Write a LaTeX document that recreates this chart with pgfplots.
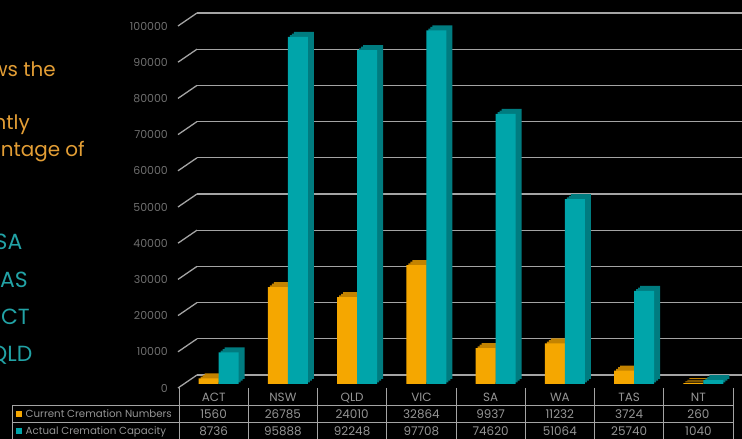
\documentclass[border=0pt]{standalone}
\usepackage{fontspec}
\setmainfont{Poppins}
\usepackage{pgfplots}
\pgfplotsset{compat=1.18}

\definecolor{barorange}{HTML}{F5A700}
\definecolor{barorangedk}{HTML}{C38300}
\definecolor{barteal}{HTML}{00A5AA}
\definecolor{bartealdk}{HTML}{007C80}
\definecolor{gridgray}{HTML}{A4A4A4}
\definecolor{tickgray}{HTML}{6E6E6E}
\definecolor{tabgray}{HTML}{959595}
\definecolor{slideorange}{HTML}{E39E35}
\definecolor{slideteal}{HTML}{22A3A6}

% fake 3d depth: shifted copies of the bar behind it
\tikzset{depth/.style={
  preaction={fill=#1, transform canvas={shift={(6bp,5bp)}}},
  preaction={fill=#1, transform canvas={shift={(4bp,3.3bp)}}},
  preaction={fill=#1, transform canvas={shift={(2bp,1.7bp)}}}}}

\begin{document}
\begin{tikzpicture}[x=1bp,y=1bp]
\fill[black] (0,0) rectangle (742,439);
\useasboundingbox (0,0) rectangle (742,439);
\clip (0,0) rectangle (742,439);

% slide text, cut at the left edge
\begin{scope}[every node/.style={anchor=base east, inner sep=0pt}]
\node[text=slideorange, font=\fontsize{20}{24}\selectfont] at (56,362) {This chart shows the};
\node[text=slideorange, font=\fontsize{20}{24}\selectfont] at (30,309) {currently};
\node[text=slideorange, font=\fontsize{20}{24}\selectfont] at (85,282) {percentage of};
\node[text=slideteal, font=\fontsize{22}{26}\selectfont] at (22.5,189) {SA};
\node[text=slideteal, font=\fontsize{22}{26}\selectfont] at (28,151) {TAS};
\node[text=slideteal, font=\fontsize{22}{26}\selectfont] at (30,114) {ACT};
\node[text=slideteal, font=\fontsize{22}{26}\selectfont] at (32.5,77) {QLD};
\end{scope}

% back wall with gridlines
\begin{axis}[at={(197bp,64bp)}, anchor=south west, scale only axis,
  width=545bp, height=362bp, xmin=0, xmax=1, ymin=0, ymax=100000,
  ytick={0,10000,...,100000}, xtick=\empty, yticklabel={},
  ymajorgrids, major grid style={gridgray, line width=1.3bp},
  axis line style={draw=none}, tick style={draw=none}]
\end{axis}

% diagonal stubs from the front edge to the back wall
\foreach \k in {0,...,10}
  \draw[gridgray, line width=1.3bp] (178,51+36.2*\k) -- (197,64+36.2*\k);

\begin{axis}[at={(179bp,55bp)}, anchor=south west, scale only axis,
  width=554bp, height=362bp, xmin=-0.5, xmax=7.5, ymin=0, ymax=100000,
  ybar, bar width=20bp, clip=false,
  axis line style={draw=none}, tick style={draw=none},
  ytick={0,10000,...,100000}, scaled y ticks=false,
  /pgf/number format/fixed,
  /pgf/number format/assume math mode=true,
  /pgf/number format/set thousands separator={},
  yticklabel style={text=tickgray, font=\fontsize{11}{13}\selectfont,
    inner sep=0pt, anchor=east, xshift=-11bp, yshift=-4bp},
  xtick={0,...,7},
  xticklabels={{ACT\\1560\\8736},{NSW\\26785\\95888},{QLD\\24010\\92248},
    {VIC\\32864\\97708},{SA\\9937\\74620},{WA\\11232\\51064},
    {TAS\\3724\\25740},{NT\\260\\1040}},
  xticklabel style={align=center, text=tabgray,
    font=\fontsize{12}{17}\selectfont, inner sep=0pt, anchor=north,
    yshift=-5bp}]
\addplot[fill=barorange, draw=none, bar shift=-5bp, depth=barorangedk] coordinates
  {(0,1560) (1,26785) (2,24010) (3,32864) (4,9937) (5,11232) (6,3724) (7,260)};
\addplot[fill=barteal, draw=none, bar shift=15bp, depth=bartealdk] coordinates
  {(0,8736) (1,95888) (2,92248) (3,97708) (4,74620) (5,51064) (6,25740) (7,1040)};
\end{axis}

% data table frame
\begin{scope}[gridgray, line width=1bp]
\foreach \k in {0,...,8}
  \draw (179+69.25*\k,51) -- (179+69.25*\k,0);
\draw (12,33) -- (733,33);
\draw (12,16) -- (733,16);
\draw (12,33) -- (12,0);
\end{scope}
\fill[barorange] (16,22) rectangle ++(6,6);
\fill[barteal] (16,5) rectangle ++(6,6);
\node[anchor=base west, inner sep=0pt, text=tabgray, font=\fontsize{10.3}{13}\selectfont]
  at (25.5,21) {Current Cremation Numbers};
\node[anchor=base west, inner sep=0pt, text=tabgray, font=\fontsize{10.3}{13}\selectfont]
  at (25.5,4.5) {Actual Cremation Capacity};
\end{tikzpicture}
\end{document}
